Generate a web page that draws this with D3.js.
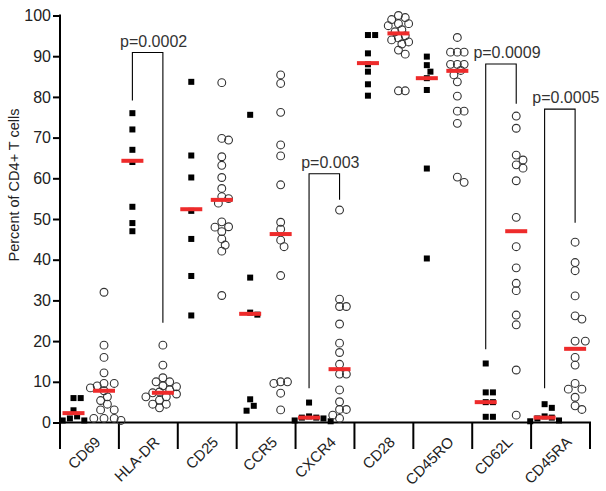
<!DOCTYPE html>
<html>
<head>
<meta charset="utf-8">
<script src="https://cdn.jsdelivr.net/npm/d3@7/dist/d3.min.js"></script>
<style>
  html, body { margin: 0; padding: 0; background: #fff; }
  svg { display: block; font-family: "Liberation Sans", Arial, Helvetica, sans-serif; }
</style>
</head>
<body>
<svg id="chart" width="606" height="491"></svg>
<script>
// ---- data ----
const categories = ["CD69", "HLA-DR", "CD25", "CCR5", "CXCR4", "CD28", "CD45RO", "CD62L", "CD45RA"];

// filled squares (left group in each category)
const squareValues = [
  [6, 6, 3, 1.5, 1, 0.5, 0.5],
  [76, 72, 67, 64, 53, 49, 47],
  [83.7, 65.6, 60.2, 52, 45.1, 36, 26.3],
  [75.6, 35.6, 27, 26.5, 5.7, 4.1, 2.9],
  [4.9, 1.5, 1.2, 1.2, 1, 0.5, 0.3],
  [95.2, 95.2, 90.7, 88, 86.2, 83.1, 80.3],
  [89.9, 87.8, 86.2, 84.6, 81.7, 62.4, 40.3],
  [14.5, 7.4, 7.4, 5, 5, 1.4, 1.4],
  [4.5, 3.6, 1.5, 1.2, 1, 0.5, 0.3]
];

// open circles (right group in each category)
const circleValues = [
  [32, 19, 16, 12.2, 9.6, 9.6, 9, 8.5, 7.8, 6.3, 5.4, 4.5, 3.1, 3.1, 1, 1, 1, 0.5],
  [19, 14.1, 11, 10, 10, 9, 8.8, 8, 7.5, 7.3, 7, 6.3, 6.3, 5.5, 4.5, 4.5, 3.6],
  [83.5, 69.8, 69.4, 65.3, 63.2, 60.2, 57.5, 55.5, 55, 53.9, 49.3, 48.1, 48, 46.9, 45.1, 43.6, 42.1, 31.2],
  [85.4, 83.3, 76.2, 68.2, 65.5, 58.4, 49.2, 47.5, 44.8, 43.2, 36.1, 10, 10, 9.6, 7.2, 3.1],
  [52.2, 30.3, 28.5, 28.5, 24.2, 19.5, 17.2, 14.3, 11.9, 11.9, 8, 5.1, 3.2, 3.2, 1.8, 1],
  [100, 99.5, 99, 98, 98, 97.5, 96.5, 96, 95, 94.5, 94, 93.5, 93, 91.5, 90.5, 81.5, 81.5],
  [94.6, 91, 91, 91, 88, 88, 88, 86.5, 85.4, 83.7, 80.2, 76.5, 76.5, 73.5, 60.3, 59],
  [75.3, 72.3, 65.7, 64.5, 63.3, 62.5, 59.4, 50.4, 43.2, 38, 34.2, 32.4, 26.4, 24, 12.9, 1.8],
  [44.3, 39.3, 37.3, 31.1, 26.2, 25.4, 20, 20, 16, 14.1, 9.6, 8.2, 8.2, 6.2, 4.1, 3.2]
];

// red bars (medians)
const squareMedians = [2.3, 64.3, 52.4, 26.7, 1.2, 88.3, 84.6, 5, 1.2];
const circleMedians = [7.8, 7.3, 54.7, 46.3, 13.1, 95.6, 86.4, 47, 18.1];

// significance brackets
const pCategories = ["HLA-DR", "CXCR4", "CD62L", "CD45RA"];
const pLabels = ["p=0.0002", "p=0.003", "p=0.0009", "p=0.0005"];
const pTop = [90.9, 61.1, 88.1, 77];
const pLeftEnd = [79.1, 8.4, 18, 8.4];
const pRightEnd = [24.5, 54.7, 78.3, 49.1];

const yTicks = [0, 10, 20, 30, 40, 50, 60, 70, 80, 90, 100];
const yTitle = "Percent of CD4+ T cells";

// ---- layout ----
const svg = d3.select("#chart");
const x0 = 60, x1 = 590, yBottom = 422.5, yTopPx = 15.5;

const x = d3.scaleBand().domain(categories).range([x0, x1]).padding(0);
const y = d3.scaleLinear().domain([0, 100]).range([yBottom, yTopPx]);
const leftOff = 13.5, rightOff = 44;

const textColor = "#222";

// y axis
const yAxis = d3.axisLeft(y).tickValues(yTicks).tickSize(7).tickPadding(2).tickSizeOuter(0);
const gy = svg.append("g").attr("transform", `translate(${x0},0)`).call(yAxis);
gy.select(".domain").remove();
gy.selectAll(".tick line").attr("stroke", "#000").attr("stroke-width", 2);
gy.selectAll(".tick text").attr("font-size", 16).attr("fill", textColor)
  .attr("font-family", "'Liberation Sans', Arial, sans-serif");
svg.append("line").attr("x1", x0).attr("x2", x0).attr("y1", yTopPx - 1).attr("y2", 449)
  .attr("stroke", "#000").attr("stroke-width", 2);

// x axis baseline + divider ticks
svg.append("line").attr("x1", x0 - 1).attr("x2", x1 + 1).attr("y1", yBottom).attr("y2", yBottom)
  .attr("stroke", "#000").attr("stroke-width", 2.2);
const dividers = categories.map(c => x(c)).concat([x1]);
svg.append("g").selectAll("line").data(dividers.slice(1)).join("line")
  .attr("x1", d => d).attr("x2", d => d).attr("y1", yBottom).attr("y2", 449)
  .attr("stroke", "#000").attr("stroke-width", 2);

// x labels (rotated 45 degrees)
svg.append("g").attr("class", "xlabels").selectAll("text").data(categories).join("text")
  .attr("transform", d => `translate(${x(d) + x.bandwidth() / 2 + 12},443) rotate(-45)`)
  .attr("text-anchor", "end")
  .attr("font-size", 15)
  .attr("fill", textColor)
  .text(d => d);

// y title
svg.append("text")
  .attr("transform", `translate(18.5,185) rotate(-90)`)
  .attr("text-anchor", "middle")
  .attr("font-size", 14.5)
  .attr("fill", textColor)
  .text(yTitle);

// beeswarm layout
function swarm(values, cx, minDist, step) {
  const pts = values.map(v => ({ v, y: y(v) })).sort((a, b) => a.y - b.y);
  const placed = [];
  for (const p of pts) {
    let k = 0;
    while (k < 40) {
      const n = Math.ceil(k / 2);
      const off = k === 0 ? 0 : (k % 2 === 1 ? n * step : -n * step);
      const px = cx + off;
      if (placed.every(q => Math.hypot(q.x - px, q.y - p.y) >= minDist)) { p.x = px; break; }
      k++;
    }
    placed.push(p);
  }
  return placed;
}

const sq = 6;
categories.forEach((c, i) => {
  const cxL = x(c) + leftOff, cxR = x(c) + rightOff;
  const sPts = swarm(squareValues[i], cxL, 7, 3.6);
  svg.append("g").selectAll("rect").data(sPts).join("rect")
    .attr("x", d => d.x - sq / 2).attr("y", d => d.y - sq / 2)
    .attr("width", sq).attr("height", sq).attr("fill", "#000");
  const cPts = swarm(circleValues[i], cxR, 6.8, 3.4);
  svg.append("g").selectAll("circle").data(cPts).join("circle")
    .attr("cx", d => d.x).attr("cy", d => d.y).attr("r", 3.9)
    .attr("fill", "none").attr("stroke", "#333").attr("stroke-width", 1.1);
});

// median bars
const barW = 22, barH = 4;
svg.append("g").selectAll("rect").data(categories).join("rect")
  .attr("x", (d) => x(d) + leftOff - barW / 2)
  .attr("y", (d, i) => y(squareMedians[i]) - barH / 2)
  .attr("width", barW).attr("height", barH).attr("fill", "#ee2b2b");
svg.append("g").selectAll("rect").data(categories).join("rect")
  .attr("x", (d) => x(d) + rightOff - barW / 2)
  .attr("y", (d, i) => y(circleMedians[i]) - barH / 2)
  .attr("width", barW).attr("height", barH).attr("fill", "#ee2b2b");

// significance brackets
pCategories.forEach((c, i) => {
  const xl = x(c) + leftOff, xr = x(c) + rightOff;
  const yt = y(pTop[i]);
  svg.append("path")
    .attr("d", `M${xl},${y(pLeftEnd[i])}V${yt}H${xr}V${y(pRightEnd[i])}`)
    .attr("fill", "none").attr("stroke", "#000").attr("stroke-width", 1.1);
  svg.append("text")
    .attr("x", (xl + xr) / 2 + 6).attr("y", yt - 6)
    .attr("text-anchor", "middle")
    .attr("font-size", 16)
    .attr("fill", "#333")
    .text(pLabels[i]);
});
</script>
</body>
</html>
